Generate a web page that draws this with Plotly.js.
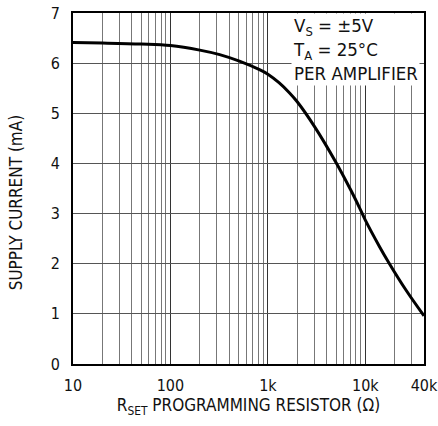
<!DOCTYPE html>
<html>
<head>
<meta charset="utf-8">
<script src="https://cdn.plot.ly/plotly-3.0.1.min.js"></script>
<style>
  html, body { margin: 0; padding: 0; background: #fff; }
  #chart { width: 438px; height: 426px; }
</style>
</head>
<body>
<div id="chart"></div>
<script>
// Supply current per amplifier vs. R_SET programming resistor
const rsetOhms = [10, 20, 50, 100, 200, 320, 510, 820, 1000, 1300, 1660, 2000, 3000, 5000, 7000, 8700, 10000, 13900, 17300, 26000, 40000];
const supplyCurrentMA = [6.41, 6.40, 6.38, 6.35, 6.26, 6.17, 6.04, 5.87, 5.78, 5.61, 5.41, 5.23, 4.74, 4.02, 3.49, 3.12, 2.87, 2.35, 2.03, 1.48, 0.96];

const xTickVals = [10, 100, 1000, 10000, 40000];
const xTickText = ['10', '100', '1k', '10k', '40k'];
const conditionLines = ['V<sub>S</sub> = ±5V', 'T<sub>A</sub> = 25°C', 'PER AMPLIFIER'];
const yTitle = 'SUPPLY CURRENT (mA)';
const xTitle = 'R<sub>SET</sub> PROGRAMMING RESISTOR (Ω)';

// minor grid at 2..9 of each decade
const minorGrid = [];
[10, 100, 1000, 10000].forEach(d => {
  for (let m = 2; m <= 9; m++) { if (d * m <= 40000) minorGrid.push(d * m); }
});

const FONT = '"DejaVu Sans Condensed", "Liberation Sans Narrow", "Liberation Sans", Arial, sans-serif';

const trace = {
  x: rsetOhms,
  y: supplyCurrentMA,
  type: 'scatter',
  mode: 'lines',
  line: { color: '#000', width: 3, shape: 'spline', smoothing: 1 },
  hoverinfo: 'skip'
};

const layout = {
  width: 438,
  height: 426,
  margin: { l: 73, r: 14, t: 13, b: 62 },
  paper_bgcolor: '#fff',
  plot_bgcolor: '#fff',
  showlegend: false,
  font: { family: FONT, size: 16, color: '#111' },
  xaxis: {
    type: 'log',
    range: [1, Math.log10(40000)],
    tickmode: 'array',
    tickvals: xTickVals,
    ticktext: xTickText,
    ticks: '',
    ticklabelstandoff: 6,
    showgrid: true,
    gridcolor: '#333',
    gridwidth: 1,
    minor: { tickmode: 'array', tickvals: minorGrid, showgrid: true, gridcolor: '#777', gridwidth: 1, ticks: '' },
    showline: true, mirror: true, linecolor: '#000', linewidth: 2,
    zeroline: false,
    tickfont: { family: FONT, size: 16, color: '#111' },
    title: { text: xTitle, font: { family: FONT, size: 17, color: '#111' }, standoff: 5 }
  },
  yaxis: {
    range: [0, 7],
    dtick: 1,
    ticks: '',
    ticklabelstandoff: 8,
    showgrid: true,
    gridcolor: '#555',
    gridwidth: 1,
    showline: true, mirror: true, linecolor: '#000', linewidth: 2,
    zeroline: false,
    tickfont: { family: FONT, size: 16, color: '#111' }
  },
  annotations: [
    {
      xref: 'paper', yref: 'paper',
      x: 0.99, y: 1,
      xanchor: 'right', yanchor: 'top',
      align: 'left',
      text: conditionLines.join('<br>'),
      showarrow: false,
      bgcolor: '#fff',
      borderpad: 1,
      font: { family: FONT, size: 18.5, color: '#111' }
    },
    {
      xref: 'paper', yref: 'paper',
      x: -0.163, y: 0.46,
      xanchor: 'center', yanchor: 'middle',
      textangle: -90,
      text: yTitle,
      showarrow: false,
      font: { family: FONT, size: 17, color: '#111' }
    }
  ]
};

Plotly.newPlot('chart', [trace], layout, { staticPlot: true, displayModeBar: false });
</script>
</body>
</html>
